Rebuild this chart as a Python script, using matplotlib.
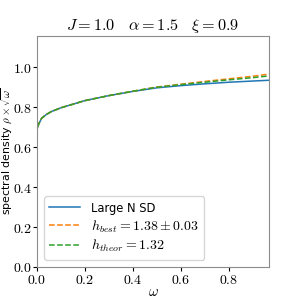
import matplotlib
matplotlib.use("Agg")
import matplotlib.pyplot as plt

plt.rcParams['mathtext.fontset'] = 'cm'

# spectral density rho*sqrt(omega)
omega = [0.0, 0.001, 0.004, 0.01, 0.02, 0.04, 0.06, 0.1, 0.15, 0.2, 0.3, 0.4,
         0.5, 0.6, 0.7, 0.8, 0.9, 0.97]
large_n = [0.66, 0.69, 0.705, 0.722, 0.745, 0.764, 0.778, 0.797, 0.815, 0.833,
           0.858, 0.879, 0.897, 0.908, 0.917, 0.925, 0.931, 0.935]
h_best = [0.66, 0.69, 0.705, 0.722, 0.745, 0.764, 0.778, 0.797, 0.815, 0.833,
          0.858, 0.880, 0.901, 0.915, 0.929, 0.942, 0.955, 0.966]
h_theor = [0.66, 0.69, 0.705, 0.722, 0.745, 0.764, 0.778, 0.797, 0.815, 0.833,
           0.858, 0.880, 0.900, 0.913, 0.925, 0.937, 0.948, 0.957]

xticks = [0.0, 0.2, 0.4, 0.6, 0.8]
yticks = [0.0, 0.2, 0.4, 0.6, 0.8, 1.0]

fig = plt.figure(figsize=(3, 3), dpi=100)
ax = fig.add_axes([0.123, 0.11, 0.775, 0.771])

ax.plot(omega, large_n, color='tab:blue', lw=1.1, label='Large N SD')
ax.plot(omega, h_best, color='tab:orange', lw=1.1, ls='--',
        label=r'$h_{best} = 1.38 \pm 0.03$')
ax.plot(omega, h_theor, color='tab:green', lw=1.1, ls='--',
        label=r'$h_{theor} = 1.32$')

ax.set_xlim(0, 0.97)
ax.set_ylim(0, 1.158)
ax.set_xticks(xticks)
ax.set_yticks(yticks)
ax.set_xticklabels([r'$%.1f$' % t for t in xticks])
ax.set_yticklabels([r'$%.1f$' % t for t in yticks])
ax.tick_params(labelsize=10, length=3, pad=1)
ax.tick_params(axis='y', pad=0.5)
for s in ax.spines.values():
    s.set_color('0.55')

ax.set_title(r'$J = 1.0 \quad \alpha = 1.5 \quad \xi = 0.9$', fontsize=11.7, pad=4)
ax.set_xlabel(r'$\omega$', fontsize=10.5)
ax.xaxis.set_label_coords(0.5, -0.075)
ax.set_ylabel(r'spectral density $\rho \times \sqrt{\omega}$', fontsize=7.9)
ax.yaxis.set_label_coords(-0.1, 0.5)

leg = ax.legend(loc='lower left', fontsize=10, handlelength=2.2, borderpad=0.4,
                labelspacing=0.25)
leg.get_texts()[0].set_fontsize(8.3)

fig.savefig('out.png', dpi=100)
